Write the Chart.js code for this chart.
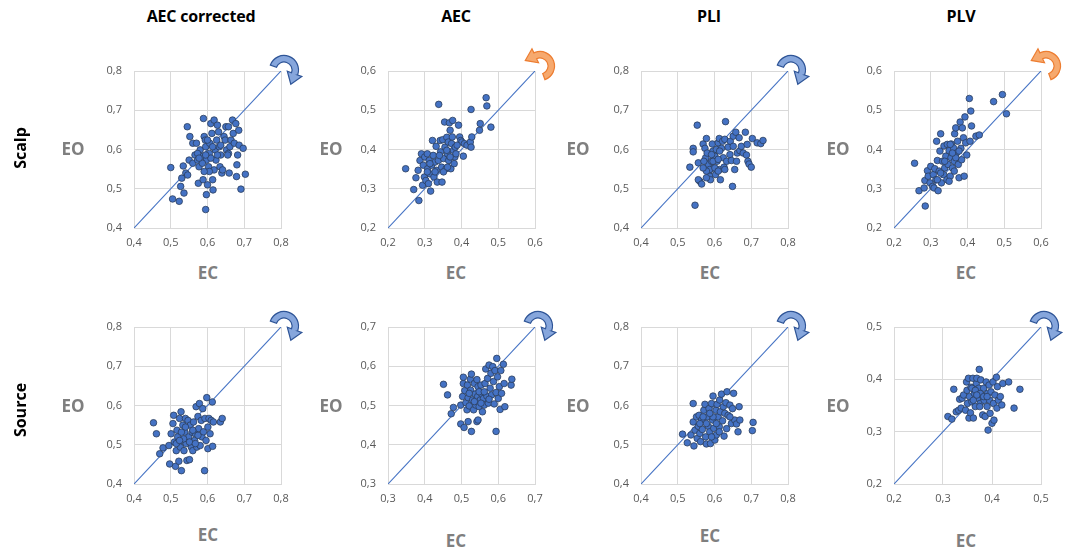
<!DOCTYPE html>
<html>
<head>
<meta charset="utf-8">
<script src="https://cdn.jsdelivr.net/npm/chart.js@4.4.1/dist/chart.umd.min.js"></script>
<style>
  html,body{margin:0;padding:0;background:#fff;}
  #fig{position:relative;width:1067px;height:547px;overflow:hidden;font-family:"Open Sans",sans-serif;}
  #fig canvas{position:absolute;}
  .lbl{position:absolute;transform:translate(-50%,-50%);white-space:nowrap;font-weight:700;}
  .col{font-size:16px;color:#000;letter-spacing:-0.2px;}
  .row{font-size:16px;color:#000;transform:translate(-50%,-50%) rotate(-90deg);}
  .ax{font-size:17px;color:#7f7f7f;}
</style>
</head>
<body>
<div id="fig"></div>
<script>
'use strict';

/* ---- data: [EC, EO] per subject ---- */
var colTitles=['AEC corrected','AEC','PLI','PLV'];
var rowTitles=['Scalp','Source'];
var axisMin=[0.4,0.2,0.4,0.2, 0.4,0.3,0.4,0.2];
var axisMax=[0.8,0.6,0.8,0.6, 0.8,0.7,0.8,0.5];
var arrowKind=['cw','ccw','cw','ccw', 'cw','cw','cw','cw'];

var scalpAECc=[[0.500,0.554],[0.505,0.474],[0.523,0.468],[0.527,0.506],[0.530,0.527],[0.536,0.489],[0.534,0.558],[0.541,0.540],[0.546,0.535],[0.545,0.658],[0.552,0.633],[0.550,0.573],[0.560,0.565],[0.560,0.616],[0.566,0.586],[0.570,0.616],[0.573,0.573],[0.575,0.514],[0.577,0.556],[0.580,0.599],[0.586,0.582],[0.588,0.523],[0.589,0.679],[0.591,0.633],[0.594,0.624],[0.595,0.607],[0.597,0.573],[0.595,0.447],[0.597,0.485],[0.600,0.510],[0.603,0.556],[0.605,0.590],[0.606,0.616],[0.609,0.666],[0.612,0.641],[0.614,0.523],[0.615,0.497],[0.618,0.548],[0.618,0.675],[0.621,0.599],[0.623,0.573],[0.625,0.624],[0.627,0.662],[0.630,0.645],[0.632,0.607],[0.634,0.556],[0.636,0.586],[0.639,0.540],[0.641,0.548],[0.645,0.633],[0.648,0.624],[0.650,0.658],[0.652,0.599],[0.657,0.590],[0.659,0.540],[0.661,0.607],[0.664,0.624],[0.668,0.675],[0.670,0.641],[0.673,0.616],[0.677,0.666],[0.679,0.531],[0.680,0.561],[0.682,0.586],[0.685,0.649],[0.686,0.611],[0.691,0.499],[0.697,0.603],[0.703,0.537],[0.657,0.658],[0.586,0.565],[0.573,0.590],[0.605,0.544],[0.609,0.578],[0.577,0.578],[0.627,0.586],[0.600,0.624],[0.595,0.586],[0.614,0.607],[0.591,0.544],[0.636,0.611],[0.655,0.586]];

var scalpAEC=[[0.248,0.351],[0.270,0.298],[0.284,0.270],[0.276,0.328],[0.282,0.347],[0.287,0.372],[0.291,0.389],[0.294,0.309],[0.296,0.360],[0.299,0.330],[0.300,0.381],[0.303,0.321],[0.307,0.389],[0.308,0.351],[0.310,0.313],[0.312,0.372],[0.314,0.338],[0.316,0.294],[0.319,0.360],[0.321,0.423],[0.323,0.385],[0.325,0.330],[0.328,0.368],[0.331,0.408],[0.332,0.347],[0.334,0.317],[0.337,0.372],[0.338,0.515],[0.342,0.423],[0.343,0.394],[0.346,0.355],[0.347,0.317],[0.349,0.425],[0.351,0.377],[0.354,0.470],[0.355,0.406],[0.358,0.351],[0.360,0.431],[0.362,0.389],[0.364,0.419],[0.365,0.372],[0.367,0.468],[0.369,0.449],[0.371,0.351],[0.373,0.415],[0.375,0.432],[0.376,0.474],[0.378,0.398],[0.380,0.364],[0.382,0.381],[0.385,0.389],[0.392,0.462],[0.395,0.432],[0.398,0.423],[0.401,0.419],[0.405,0.383],[0.408,0.415],[0.415,0.411],[0.424,0.419],[0.426,0.406],[0.426,0.502],[0.428,0.432],[0.449,0.449],[0.451,0.466],[0.467,0.532],[0.469,0.511],[0.480,0.457],[0.307,0.343],[0.314,0.364],[0.328,0.343],[0.340,0.385],[0.351,0.343],[0.362,0.355],[0.369,0.381],[0.383,0.406],[0.388,0.411],[0.360,0.398]];

var scalpPLI=[[0.553,0.662],[0.630,0.671],[0.547,0.458],[0.542,0.603],[0.542,0.594],[0.533,0.555],[0.556,0.566],[0.560,0.519],[0.556,0.523],[0.565,0.512],[0.569,0.614],[0.574,0.603],[0.578,0.628],[0.576,0.579],[0.580,0.591],[0.583,0.562],[0.585,0.545],[0.587,0.532],[0.589,0.523],[0.592,0.570],[0.594,0.614],[0.596,0.596],[0.598,0.553],[0.601,0.583],[0.603,0.536],[0.605,0.600],[0.607,0.570],[0.610,0.617],[0.613,0.628],[0.614,0.549],[0.616,0.523],[0.619,0.603],[0.622,0.621],[0.624,0.579],[0.626,0.555],[0.628,0.626],[0.633,0.570],[0.637,0.606],[0.642,0.587],[0.643,0.621],[0.646,0.572],[0.649,0.506],[0.651,0.634],[0.655,0.549],[0.658,0.644],[0.660,0.570],[0.662,0.591],[0.667,0.630],[0.669,0.597],[0.673,0.608],[0.678,0.591],[0.684,0.644],[0.687,0.586],[0.689,0.613],[0.691,0.570],[0.694,0.563],[0.700,0.555],[0.703,0.628],[0.716,0.617],[0.726,0.615],[0.732,0.623],[0.587,0.549],[0.578,0.545],[0.571,0.570],[0.596,0.570],[0.601,0.553],[0.569,0.553],[0.578,0.528],[0.610,0.545],[0.592,0.587],[0.614,0.596],[0.628,0.549],[0.651,0.608],[0.610,0.575]];

var scalpPLV=[[0.256,0.365],[0.268,0.295],[0.282,0.302],[0.285,0.256],[0.284,0.321],[0.291,0.346],[0.293,0.332],[0.298,0.315],[0.300,0.357],[0.305,0.306],[0.307,0.336],[0.309,0.302],[0.311,0.351],[0.314,0.323],[0.316,0.421],[0.318,0.372],[0.320,0.295],[0.323,0.345],[0.325,0.396],[0.327,0.440],[0.329,0.315],[0.332,0.370],[0.335,0.336],[0.336,0.409],[0.338,0.353],[0.341,0.383],[0.344,0.323],[0.345,0.413],[0.347,0.362],[0.350,0.397],[0.353,0.332],[0.355,0.379],[0.356,0.414],[0.359,0.353],[0.362,0.404],[0.364,0.370],[0.365,0.440],[0.368,0.455],[0.370,0.391],[0.373,0.421],[0.375,0.362],[0.377,0.328],[0.380,0.470],[0.382,0.403],[0.384,0.374],[0.386,0.455],[0.389,0.430],[0.391,0.332],[0.393,0.483],[0.395,0.417],[0.398,0.386],[0.405,0.530],[0.407,0.421],[0.409,0.498],[0.411,0.460],[0.423,0.434],[0.432,0.437],[0.471,0.522],[0.495,0.540],[0.506,0.491],[0.353,0.413],[0.364,0.345],[0.338,0.370],[0.327,0.340],[0.350,0.319],[0.318,0.323],[0.368,0.379],[0.377,0.396],[0.359,0.391]];

var sourceAECc=[[0.453,0.556],[0.461,0.528],[0.470,0.477],[0.479,0.492],[0.497,0.451],[0.495,0.498],[0.501,0.528],[0.506,0.554],[0.508,0.575],[0.510,0.507],[0.513,0.445],[0.515,0.485],[0.517,0.537],[0.519,0.520],[0.522,0.458],[0.524,0.567],[0.526,0.494],[0.528,0.584],[0.529,0.434],[0.531,0.511],[0.533,0.550],[0.536,0.485],[0.538,0.532],[0.540,0.567],[0.542,0.503],[0.544,0.460],[0.547,0.562],[0.549,0.520],[0.551,0.462],[0.553,0.550],[0.556,0.494],[0.558,0.532],[0.560,0.485],[0.562,0.558],[0.565,0.511],[0.567,0.528],[0.569,0.597],[0.571,0.494],[0.574,0.572],[0.576,0.541],[0.578,0.605],[0.580,0.498],[0.583,0.562],[0.585,0.520],[0.587,0.592],[0.589,0.533],[0.592,0.434],[0.593,0.567],[0.596,0.511],[0.598,0.620],[0.601,0.545],[0.601,0.490],[0.604,0.567],[0.607,0.528],[0.610,0.562],[0.613,0.609],[0.614,0.496],[0.616,0.558],[0.635,0.558],[0.640,0.567],[0.535,0.515],[0.551,0.507],[0.567,0.503],[0.515,0.503],[0.524,0.511],[0.540,0.545],[0.560,0.537],[0.574,0.524],[0.529,0.532]];

var sourceAEC=[[0.451,0.554],[0.462,0.527],[0.472,0.479],[0.478,0.495],[0.498,0.453],[0.507,0.444],[0.518,0.459],[0.527,0.434],[0.542,0.459],[0.545,0.463],[0.594,0.434],[0.498,0.501],[0.503,0.523],[0.505,0.556],[0.505,0.572],[0.509,0.538],[0.512,0.507],[0.515,0.489],[0.516,0.552],[0.518,0.520],[0.521,0.499],[0.524,0.567],[0.525,0.539],[0.527,0.580],[0.530,0.514],[0.533,0.489],[0.535,0.556],[0.537,0.529],[0.539,0.501],[0.542,0.566],[0.544,0.523],[0.545,0.548],[0.548,0.497],[0.551,0.514],[0.553,0.552],[0.555,0.529],[0.557,0.484],[0.560,0.518],[0.562,0.501],[0.564,0.556],[0.566,0.593],[0.569,0.524],[0.571,0.569],[0.573,0.506],[0.575,0.603],[0.578,0.544],[0.580,0.582],[0.582,0.527],[0.585,0.599],[0.587,0.561],[0.589,0.504],[0.591,0.589],[0.594,0.533],[0.596,0.620],[0.598,0.573],[0.600,0.518],[0.603,0.548],[0.605,0.490],[0.607,0.589],[0.609,0.531],[0.614,0.605],[0.616,0.556],[0.618,0.497],[0.635,0.552],[0.637,0.567],[0.535,0.510],[0.548,0.535],[0.562,0.535],[0.575,0.516],[0.521,0.531],[0.553,0.506]];

var sourcePLI=[[0.513,0.527],[0.526,0.505],[0.536,0.525],[0.542,0.605],[0.542,0.558],[0.544,0.497],[0.547,0.537],[0.551,0.571],[0.553,0.516],[0.556,0.547],[0.558,0.575],[0.560,0.529],[0.562,0.508],[0.565,0.563],[0.567,0.539],[0.571,0.588],[0.574,0.603],[0.576,0.520],[0.578,0.502],[0.580,0.571],[0.583,0.547],[0.585,0.592],[0.587,0.533],[0.589,0.503],[0.592,0.605],[0.595,0.563],[0.596,0.624],[0.598,0.542],[0.601,0.512],[0.604,0.588],[0.605,0.525],[0.607,0.603],[0.610,0.571],[0.613,0.546],[0.614,0.614],[0.616,0.584],[0.619,0.629],[0.622,0.561],[0.624,0.597],[0.626,0.522],[0.628,0.580],[0.631,0.607],[0.633,0.541],[0.634,0.635],[0.637,0.575],[0.642,0.601],[0.646,0.554],[0.649,0.592],[0.652,0.631],[0.655,0.563],[0.660,0.553],[0.664,0.533],[0.667,0.597],[0.669,0.563],[0.705,0.557],[0.703,0.536],[0.578,0.554],[0.560,0.554],[0.596,0.571],[0.587,0.580],[0.605,0.554],[0.569,0.571],[0.613,0.533],[0.592,0.520],[0.642,0.571]];

var sourcePLV=[[0.310,0.329],[0.318,0.324],[0.322,0.381],[0.327,0.338],[0.332,0.341],[0.334,0.362],[0.337,0.345],[0.339,0.364],[0.342,0.370],[0.346,0.341],[0.348,0.395],[0.349,0.379],[0.350,0.354],[0.352,0.402],[0.353,0.326],[0.354,0.367],[0.356,0.336],[0.357,0.385],[0.359,0.357],[0.361,0.402],[0.362,0.326],[0.364,0.373],[0.366,0.348],[0.368,0.392],[0.369,0.402],[0.371,0.364],[0.373,0.383],[0.374,0.419],[0.376,0.354],[0.377,0.399],[0.379,0.370],[0.381,0.332],[0.383,0.383],[0.384,0.360],[0.386,0.329],[0.388,0.395],[0.390,0.348],[0.391,0.373],[0.392,0.303],[0.394,0.389],[0.395,0.360],[0.396,0.335],[0.398,0.376],[0.400,0.316],[0.402,0.395],[0.403,0.354],[0.404,0.322],[0.406,0.370],[0.409,0.404],[0.410,0.345],[0.411,0.386],[0.413,0.360],[0.417,0.367],[0.420,0.351],[0.422,0.392],[0.434,0.395],[0.445,0.345],[0.457,0.381],[0.359,0.383],[0.366,0.379],[0.376,0.373],[0.383,0.367],[0.375,0.348],[0.390,0.367],[0.362,0.360],[0.369,0.370]];

var panelData=[scalpAECc,scalpAEC,scalpPLI,scalpPLV,sourceAECc,sourceAEC,sourcePLI,sourcePLV];

/* ---- layout ---- */
var colLeft=[134,388,641,894];
var rowTop=[71,327];
var PW=147, PH=157;
var PADL=50, PADT=25, PADR=30, PADB=30;
var colCenter=[201,456,709,961];
var eoX=[73,331,578,838], eoY=[148,405];
var ecX=[208,456,710,966], ecY=[[272,272,272,272],[534,540,535,540]];

var fig=document.getElementById('fig');
Chart.defaults.font.family='"Open Sans", sans-serif';

function addLabel(txt,cls,x,y){
  var d=document.createElement('div');
  d.className='lbl '+cls;d.textContent=txt;
  d.style.left=x+'px';d.style.top=y+'px';
  fig.appendChild(d);
}

function fmt(v){return (Math.round(v*10)/10).toFixed(1).replace('.',',');}

// curved arrow drawn next to the top-right corner of the plot area
var curlPlugin={
  id:'curl',
  afterDraw:function(chart,args,opts){
    var ca=chart.chartArea, ctx=chart.ctx;
    var cw=opts.kind==='cw';
    var cx=ca.right+(cw?3:5), cy=ca.top+(cw?-1:-5);
    var R=14.5, r=8, ho=19, hi=3.5, hl=11;
    var a0=cw?200*Math.PI/180:70*Math.PI/180;
    var a1=cw?380*Math.PI/180:-115*Math.PI/180;
    var tx=cw?-Math.sin(a1):Math.sin(a1), ty=cw?Math.cos(a1):-Math.cos(a1);
    var c=Math.cos(a1), s=Math.sin(a1), rm=(R+r)/2;
    ctx.save();
    ctx.beginPath();
    ctx.arc(cx,cy,R,a0,a1,!cw);
    ctx.lineTo(cx+ho*c,cy+ho*s);
    ctx.lineTo(cx+rm*c+tx*hl,cy+rm*s+ty*hl);
    ctx.lineTo(cx+hi*c,cy+hi*s);
    ctx.lineTo(cx+r*c,cy+r*s);
    ctx.arc(cx,cy,r,a1,a0,cw);
    ctx.closePath();
    ctx.fillStyle=cw?'#86a6dc':'#f6a96e';
    ctx.fill();
    ctx.lineWidth=1.2;
    ctx.strokeStyle=cw?'#2f5597':'#ed7d31';
    ctx.stroke();
    ctx.restore();
  }
};

function makePanel(i){
  var row=Math.floor(i/4), col=i%4;
  var L=colLeft[col], T=rowTop[row];
  var cv=document.createElement('canvas');
  var w=PW+PADL+PADR, h=PH+PADT+PADB;
  cv.width=w;cv.height=h;
  cv.style.left=(L-PADL)+'px';cv.style.top=(T-PADT)+'px';
  cv.style.width=w+'px';cv.style.height=h+'px';
  fig.appendChild(cv);
  var mn=axisMin[i], mx=axisMax[i];
  var pts=panelData[i].map(function(p){return {x:p[0],y:p[1]};});
  var axis=function(){
    return {
      type:'linear',min:mn,max:mx,
      ticks:{stepSize:0.1,color:'#595959',font:{size:11},padding:8,callback:function(v){return fmt(v);}},
      grid:{color:'#d9d9d9',lineWidth:1,drawTicks:false},
      border:{display:true,color:'#d9d9d9'}
    };
  };
  var xs=axis(), ys=axis();
  xs.afterFit=function(s){s.height=PADB;};
  ys.afterFit=function(s){s.width=PADL;};
  ys.ticks.padding=12;
  new Chart(cv,{
    type:'scatter',
    data:{datasets:[
      {data:pts,pointRadius:3.3,pointBackgroundColor:'#4472c4',pointBorderColor:'#2b3d5c',pointBorderWidth:0.8},
      {type:'line',data:[{x:mn,y:mn},{x:mx,y:mx}],borderColor:'#4472c4',borderWidth:1.1,pointRadius:0,fill:false}
    ]},
    options:{
      responsive:false,animation:false,
      layout:{padding:{left:0,top:PADT,right:PADR,bottom:0}},
      plugins:{legend:{display:false},tooltip:{enabled:false},curl:{kind:arrowKind[i]}},
      scales:{x:xs,y:ys}
    },
    plugins:[curlPlugin]
  });
  addLabel('EO','ax',eoX[col],eoY[row]);
  addLabel('EC','ax',ecX[col],ecY[row][col]);
}

for(var i=0;i<8;i++)makePanel(i);
for(var c=0;c<4;c++)addLabel(colTitles[c],'col',colCenter[c],16);
addLabel(rowTitles[0],'row',20,148);
addLabel(rowTitles[1],'row',20,410);
</script>
</body>
</html>
